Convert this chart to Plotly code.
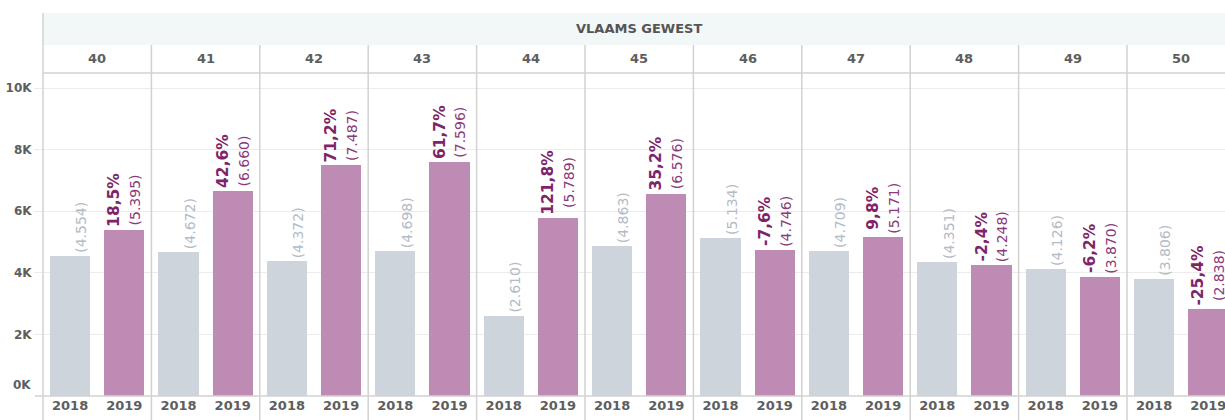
import plotly.graph_objects as go
from plotly.subplots import make_subplots

# ---- data ----
region = "VLAAMS GEWEST"
weeks = ["40", "41", "42", "43", "44", "45", "46", "47", "48", "49", "50"]
years = ["2018", "2019"]
values_2018 = [4554, 4672, 4372, 4698, 2610, 4863, 5134, 4709, 4351, 4126, 3806]
values_2019 = [5395, 6660, 7487, 7596, 5789, 6576, 4746, 5171, 4248, 3870, 2838]
pct_labels = ["18,5%", "42,6%", "71,2%", "61,7%", "121,8%", "35,2%",
              "-7,6%", "9,8%", "-2,4%", "-6,2%", "-25,4%"]
y_tickvals = [2000, 4000, 6000, 8000, 10000]
y_ticktext = ["2K", "4K", "6K", "8K", "10K"]

# ---- style ----
FONT = "DejaVu Sans"
C18 = "#ced4dc"
C19 = "#bd8bb4"
T18 = "#b3bbc6"
T_PCT = "#7e2469"
T_CNT = "#8a3a7c"
AXIS_TXT = "#5e5e5e"
DIV = "#d2d2d2"
GRID = "#ececec"

W, H = 1225, 420
ML, MR, MT, MB = 43, 0, 73, 24
plot_h = H - MT - MB
panel_w = 108.4
last_w = W - ML - MR - panel_w * 10


def fmt(v):
    return "(" + f"{v:,}".replace(",", ".") + ")"


def py(px_from_top):
    return (H - MB - px_from_top) / plot_h


fig = make_subplots(rows=1, cols=len(weeks), shared_yaxes=True,
                    horizontal_spacing=0,
                    column_widths=[panel_w] * 10 + [last_w])

for i, wk in enumerate(weeks):
    lab18 = (f"\u00a0<br><span style='font-size:14px;color:{T18}'>"
             f"{fmt(values_2018[i])}</span>")
    lab19 = (f"<b><span style='font-size:15.5px;color:{T_PCT}'>{pct_labels[i]}</span></b>"
             f"<br><span style='font-size:14px;color:{T_CNT}'>{fmt(values_2019[i])}</span>")
    fig.add_trace(go.Bar(
        x=years, y=[values_2018[i], values_2019[i]],
        marker=dict(color=[C18, C19], line=dict(width=0)),
        width=0.74,
        text=[lab18, lab19], textposition="outside", textangle=-90,
        textfont=dict(family=FONT, size=16, color=[T18, T_CNT]),
        constraintext="none", cliponaxis=False,
        showlegend=False, hoverinfo="skip"), row=1, col=i + 1)

n = len(weeks)
last_range = 1.5 - 2 * (panel_w - last_w) / panel_w
for i in range(n):
    ax = "xaxis" if i == 0 else f"xaxis{i + 1}"
    fig.layout[ax].update(
        type="category", categoryorder="array", categoryarray=years,
        range=[-0.5, 1.5 if i < n - 1 else last_range],
        showgrid=False, showline=False, zeroline=False, ticks="",
        tickfont=dict(family=FONT, size=13, color=AXIS_TXT, weight="bold"),
        fixedrange=True)
    ay = "yaxis" if i == 0 else f"yaxis{i + 1}"
    fig.layout[ay].update(
        range=[0, 10490], tickvals=y_tickvals, ticktext=y_ticktext,
        showgrid=True, gridcolor=GRID, gridwidth=1, zeroline=False,
        showline=False, fixedrange=True,
        ticks="outside" if i == 0 else "", ticklen=8, tickcolor=GRID,
        tickfont=dict(family=FONT, size=12, color=AXIS_TXT, weight="bold"))

shapes = []
# header band
shapes.append(dict(type="rect", xref="paper", yref="paper", x0=0, x1=1,
                   y0=py(45), y1=py(13), fillcolor="#f2f7f7",
                   line=dict(width=0), layer="below"))
# left frame line
shapes.append(dict(type="line", xref="paper", yref="paper", x0=0, x1=0,
                   y0=py(420), y1=py(13), line=dict(color=DIV, width=1.5)))
# panel dividers
for i in range(1, n):
    shapes.append(dict(type="line", xref=f"x{i + 1} domain", yref="paper",
                       x0=0, x1=0, y0=py(420), y1=py(45),
                       line=dict(color=DIV, width=1.5)))
# line under week headers and bottom axis line
shapes.append(dict(type="line", xref="paper", yref="paper", x0=0, x1=1,
                   y0=1, y1=1, line=dict(color=DIV, width=1.5)))
shapes.append(dict(type="line", xref="paper", yref="paper",
                   x0=-8 / (W - ML - MR), x1=1, y0=0, y1=0,
                   line=dict(color=DIV, width=1.5)))

annotations = []
full_w = panel_w * n
annotations.append(dict(text=f"<b>{region}</b>", xref="paper", yref="paper",
                        x=(full_w / 2) / (W - ML - MR), y=py(29),
                        xanchor="center", yanchor="middle", showarrow=False,
                        font=dict(family=FONT, size=13, color="#555555")))
for i, wk in enumerate(weeks):
    annotations.append(dict(text=f"<b>{wk}</b>", xref=f"x{i + 1}", yref="paper",
                            x=0.5, y=py(59), xanchor="center", yanchor="middle",
                            showarrow=False,
                            font=dict(family=FONT, size=13, color=AXIS_TXT)))
annotations.append(dict(text="<b>0K</b>", xref="paper", yref="y", x=-10 / (W - ML - MR),
                        y=0, xanchor="right", yanchor="middle", yshift=11,
                        showarrow=False,
                        font=dict(family=FONT, size=12, color=AXIS_TXT)))

fig.update_layout(
    width=W, height=H,
    margin=dict(l=ML, r=MR, t=MT, b=MB, pad=0),
    paper_bgcolor="white", plot_bgcolor="white",
    bargap=0, shapes=shapes, annotations=annotations,
    font=dict(family=FONT), showlegend=False, hovermode=False)

fig.write_html("out.html",
               config={"displayModeBar": False, "staticPlot": True},
               post_script="document.body.style.margin='0px';"
                           "document.body.style.overflow='hidden';")
